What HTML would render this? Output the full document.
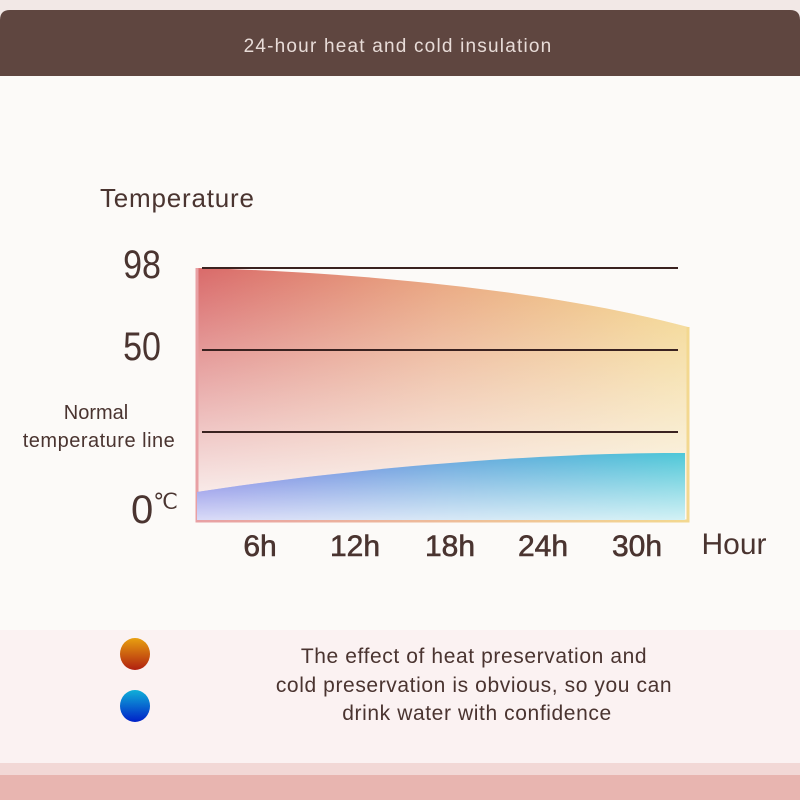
<!DOCTYPE html>
<html><head><meta charset="utf-8"><style>
html,body{margin:0;padding:0;width:800px;height:800px;overflow:hidden;background:#f2e8e6}
</style></head><body>
<svg width="800" height="800" viewBox="0 0 800 800" xmlns="http://www.w3.org/2000/svg">
<defs>
<linearGradient id="hotH" x1="0" y1="0" x2="1" y2="0">
<stop offset="0" stop-color="#d96a6a"/><stop offset="0.5" stop-color="#e9a57e"/><stop offset="1" stop-color="#f3d486"/>
</linearGradient>
<linearGradient id="fadeV" x1="0" y1="0" x2="0" y2="1">
<stop offset="0" stop-color="#fcfaf8" stop-opacity="0"/><stop offset="0.45" stop-color="#fcfaf8" stop-opacity="0.45"/><stop offset="1" stop-color="#fcfaf8" stop-opacity="1"/>
</linearGradient>
<linearGradient id="coldH" x1="0" y1="0" x2="1" y2="0">
<stop offset="0" stop-color="#6a6ee0"/><stop offset="0.5" stop-color="#62a3dc"/><stop offset="1" stop-color="#4fc8d8"/>
</linearGradient>
<linearGradient id="coldV" x1="0" y1="0" x2="0" y2="1">
<stop offset="0" stop-color="#fff" stop-opacity="0"/><stop offset="1" stop-color="#fff" stop-opacity="0.75"/>
</linearGradient>
<linearGradient id="bord" x1="0" y1="0" x2="1" y2="0">
<stop offset="0" stop-color="#e8a0a4"/><stop offset="1" stop-color="#f3d890"/>
</linearGradient>
<linearGradient id="dotH" x1="0" y1="0" x2="0" y2="1"><stop offset="0" stop-color="#e8a010"/><stop offset="1" stop-color="#b02010"/></linearGradient>
<linearGradient id="dotC" x1="0" y1="0" x2="0" y2="1"><stop offset="0" stop-color="#10b0d8"/><stop offset="1" stop-color="#0020c8"/></linearGradient>
</defs>
<rect x="0" y="10" width="800" height="760" rx="10" fill="#fcfaf8"/>
<path d="M0 20 Q0 10 10 10 L790 10 Q800 10 800 20 L800 76 L0 76 Z" fill="#5f4640"/>
<text x="398" y="52" text-anchor="middle" font-family="Liberation Sans, sans-serif" font-size="19" fill="#e8dcd8" letter-spacing="1.2">24-hour heat and cold insulation</text>
<rect x="0" y="630" width="800" height="133" fill="#fbf2f2"/>
<rect x="0" y="763" width="800" height="12" fill="#f2d8d6"/>
<rect x="0" y="775" width="800" height="25" fill="#e8b5b0"/>

<text x="100" y="207" font-family="Liberation Sans, sans-serif" font-size="26" fill="#4a3430" letter-spacing="0.8">Temperature</text>
<text x="142" y="278" text-anchor="middle" font-family="Liberation Sans Narrow, Liberation Sans, sans-serif" font-size="40" fill="#4a3430" transform="translate(142 0) scale(0.85 1) translate(-142 0)">98</text>
<text x="142" y="360" text-anchor="middle" font-family="Liberation Sans Narrow, Liberation Sans, sans-serif" font-size="40" fill="#4a3430" transform="translate(142 0) scale(0.85 1) translate(-142 0)">50</text>
<text x="96" y="419" text-anchor="middle" font-family="Liberation Sans, sans-serif" font-size="20" fill="#4a3430">Normal</text>
<text x="99" y="447" text-anchor="middle" font-family="Liberation Sans, sans-serif" font-size="20" fill="#4a3430" letter-spacing="0.5">temperature line</text>
<text x="131" y="523" font-family="Liberation Sans Narrow, Liberation Sans, sans-serif" font-size="40" fill="#4a3430">0<tspan font-size="22" dy="-14">℃</tspan></text>

<path d="M197 268 C350 272 550 290 688 327 L688 521 L197 521 Z" fill="url(#hotH)"/>
<path d="M197 268 C350 272 550 290 688 327 L688 521 L197 521 Z" fill="url(#fadeV)"/>
<path d="M197 268 L197 521 L688 521 L688 327" fill="none" stroke="url(#bord)" stroke-width="3"/>
<path d="M197 492 C350 468 550 452 685 453 L685 520 L197 520 Z" fill="url(#coldH)"/>
<path d="M197 492 C350 468 550 452 685 453 L685 520 L197 520 Z" fill="url(#coldV)"/>

<g stroke="#3a2220" stroke-width="2">
<line x1="202" y1="268" x2="678" y2="268"/>
<line x1="202" y1="350" x2="678" y2="350"/>
<line x1="202" y1="432" x2="678" y2="432"/>
</g>
<g font-family="Liberation Sans, sans-serif" font-size="30" fill="#4a3430" text-anchor="middle" stroke="#4a3430" stroke-width="0.6">
<text x="260" y="556">6h</text><text x="355" y="556">12h</text><text x="450" y="556">18h</text><text x="543" y="556">24h</text><text x="637" y="556">30h</text>
</g>
<text x="734" y="554" text-anchor="middle" font-family="Liberation Sans, sans-serif" font-size="30" fill="#4a3430">Hour</text>

<ellipse cx="135" cy="654" rx="15" ry="16" fill="url(#dotH)"/>
<ellipse cx="135" cy="706" rx="15" ry="16" fill="url(#dotC)"/>
<g font-family="Liberation Sans, sans-serif" font-size="21" fill="#4a3430" text-anchor="middle" letter-spacing="0.6">
<text x="474" y="663">The effect of heat preservation and</text>
<text x="474" y="692">cold preservation is obvious, so you can</text>
<text x="477" y="720">drink water with confidence</text>
</g>
</svg>
</body></html>
